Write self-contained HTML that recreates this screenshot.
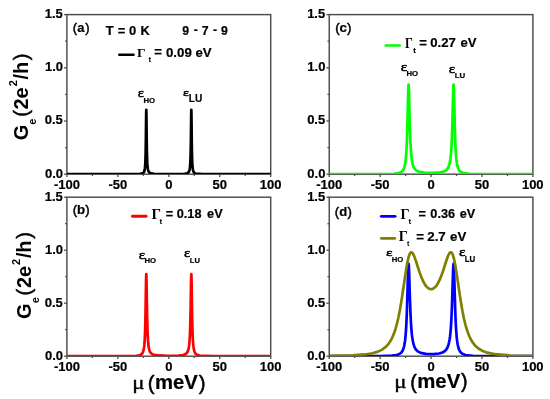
<!DOCTYPE html>
<html><head><meta charset="utf-8"><style>
html,body{margin:0;padding:0;background:#fff;width:550px;height:399px;overflow:hidden}
svg{display:block;will-change:transform}
</style></head><body>
<svg width="550" height="399" viewBox="0 0 550 399">
<rect width="550" height="399" fill="#fff"/>
<clipPath id="clipa"><rect x="66.90" y="14.60" width="203.80" height="159.40"/></clipPath>
<clipPath id="clipc"><rect x="329.25" y="14.60" width="203.65" height="159.40"/></clipPath>
<clipPath id="clipb"><rect x="66.90" y="197.20" width="203.80" height="158.80"/></clipPath>
<clipPath id="clipd"><rect x="329.25" y="197.20" width="203.65" height="158.80"/></clipPath>
<rect x="66.90" y="14.60" width="203.80" height="159.60" fill="none" stroke="#4d4d4d" stroke-width="1.45"/>
<line x1="66.90" y1="174.20" x2="66.90" y2="177.00" stroke="#4d4d4d" stroke-width="1.30"/>
<line x1="117.85" y1="174.20" x2="117.85" y2="177.00" stroke="#4d4d4d" stroke-width="1.30"/>
<line x1="168.80" y1="174.20" x2="168.80" y2="177.00" stroke="#4d4d4d" stroke-width="1.30"/>
<line x1="219.75" y1="174.20" x2="219.75" y2="177.00" stroke="#4d4d4d" stroke-width="1.30"/>
<line x1="270.70" y1="174.20" x2="270.70" y2="177.00" stroke="#4d4d4d" stroke-width="1.30"/>
<line x1="92.38" y1="174.20" x2="92.38" y2="176.00" stroke="#4d4d4d" stroke-width="1.30"/>
<line x1="143.32" y1="174.20" x2="143.32" y2="176.00" stroke="#4d4d4d" stroke-width="1.30"/>
<line x1="194.27" y1="174.20" x2="194.27" y2="176.00" stroke="#4d4d4d" stroke-width="1.30"/>
<line x1="245.22" y1="174.20" x2="245.22" y2="176.00" stroke="#4d4d4d" stroke-width="1.30"/>
<line x1="64.10" y1="174.20" x2="66.90" y2="174.20" stroke="#4d4d4d" stroke-width="1.30"/>
<line x1="64.10" y1="121.00" x2="66.90" y2="121.00" stroke="#4d4d4d" stroke-width="1.30"/>
<line x1="64.10" y1="67.80" x2="66.90" y2="67.80" stroke="#4d4d4d" stroke-width="1.30"/>
<line x1="64.10" y1="14.60" x2="66.90" y2="14.60" stroke="#4d4d4d" stroke-width="1.30"/>
<line x1="65.10" y1="147.60" x2="66.90" y2="147.60" stroke="#4d4d4d" stroke-width="1.30"/>
<line x1="65.10" y1="94.40" x2="66.90" y2="94.40" stroke="#4d4d4d" stroke-width="1.30"/>
<line x1="65.10" y1="41.20" x2="66.90" y2="41.20" stroke="#4d4d4d" stroke-width="1.30"/>
<rect x="66.90" y="197.20" width="203.80" height="159.00" fill="none" stroke="#4d4d4d" stroke-width="1.45"/>
<line x1="66.90" y1="356.20" x2="66.90" y2="359.00" stroke="#4d4d4d" stroke-width="1.30"/>
<line x1="117.85" y1="356.20" x2="117.85" y2="359.00" stroke="#4d4d4d" stroke-width="1.30"/>
<line x1="168.80" y1="356.20" x2="168.80" y2="359.00" stroke="#4d4d4d" stroke-width="1.30"/>
<line x1="219.75" y1="356.20" x2="219.75" y2="359.00" stroke="#4d4d4d" stroke-width="1.30"/>
<line x1="270.70" y1="356.20" x2="270.70" y2="359.00" stroke="#4d4d4d" stroke-width="1.30"/>
<line x1="92.38" y1="356.20" x2="92.38" y2="358.00" stroke="#4d4d4d" stroke-width="1.30"/>
<line x1="143.32" y1="356.20" x2="143.32" y2="358.00" stroke="#4d4d4d" stroke-width="1.30"/>
<line x1="194.27" y1="356.20" x2="194.27" y2="358.00" stroke="#4d4d4d" stroke-width="1.30"/>
<line x1="245.22" y1="356.20" x2="245.22" y2="358.00" stroke="#4d4d4d" stroke-width="1.30"/>
<line x1="64.10" y1="356.20" x2="66.90" y2="356.20" stroke="#4d4d4d" stroke-width="1.30"/>
<line x1="64.10" y1="303.20" x2="66.90" y2="303.20" stroke="#4d4d4d" stroke-width="1.30"/>
<line x1="64.10" y1="250.20" x2="66.90" y2="250.20" stroke="#4d4d4d" stroke-width="1.30"/>
<line x1="64.10" y1="197.20" x2="66.90" y2="197.20" stroke="#4d4d4d" stroke-width="1.30"/>
<line x1="65.10" y1="329.70" x2="66.90" y2="329.70" stroke="#4d4d4d" stroke-width="1.30"/>
<line x1="65.10" y1="276.70" x2="66.90" y2="276.70" stroke="#4d4d4d" stroke-width="1.30"/>
<line x1="65.10" y1="223.70" x2="66.90" y2="223.70" stroke="#4d4d4d" stroke-width="1.30"/>
<rect x="329.25" y="14.60" width="203.65" height="159.60" fill="none" stroke="#4d4d4d" stroke-width="1.45"/>
<line x1="329.25" y1="174.20" x2="329.25" y2="177.00" stroke="#4d4d4d" stroke-width="1.30"/>
<line x1="380.16" y1="174.20" x2="380.16" y2="177.00" stroke="#4d4d4d" stroke-width="1.30"/>
<line x1="431.07" y1="174.20" x2="431.07" y2="177.00" stroke="#4d4d4d" stroke-width="1.30"/>
<line x1="481.99" y1="174.20" x2="481.99" y2="177.00" stroke="#4d4d4d" stroke-width="1.30"/>
<line x1="532.90" y1="174.20" x2="532.90" y2="177.00" stroke="#4d4d4d" stroke-width="1.30"/>
<line x1="354.71" y1="174.20" x2="354.71" y2="176.00" stroke="#4d4d4d" stroke-width="1.30"/>
<line x1="405.62" y1="174.20" x2="405.62" y2="176.00" stroke="#4d4d4d" stroke-width="1.30"/>
<line x1="456.53" y1="174.20" x2="456.53" y2="176.00" stroke="#4d4d4d" stroke-width="1.30"/>
<line x1="507.44" y1="174.20" x2="507.44" y2="176.00" stroke="#4d4d4d" stroke-width="1.30"/>
<line x1="326.45" y1="174.20" x2="329.25" y2="174.20" stroke="#4d4d4d" stroke-width="1.30"/>
<line x1="326.45" y1="121.00" x2="329.25" y2="121.00" stroke="#4d4d4d" stroke-width="1.30"/>
<line x1="326.45" y1="67.80" x2="329.25" y2="67.80" stroke="#4d4d4d" stroke-width="1.30"/>
<line x1="326.45" y1="14.60" x2="329.25" y2="14.60" stroke="#4d4d4d" stroke-width="1.30"/>
<line x1="327.45" y1="147.60" x2="329.25" y2="147.60" stroke="#4d4d4d" stroke-width="1.30"/>
<line x1="327.45" y1="94.40" x2="329.25" y2="94.40" stroke="#4d4d4d" stroke-width="1.30"/>
<line x1="327.45" y1="41.20" x2="329.25" y2="41.20" stroke="#4d4d4d" stroke-width="1.30"/>
<rect x="329.25" y="197.20" width="203.65" height="159.00" fill="none" stroke="#4d4d4d" stroke-width="1.45"/>
<line x1="329.25" y1="356.20" x2="329.25" y2="359.00" stroke="#4d4d4d" stroke-width="1.30"/>
<line x1="380.16" y1="356.20" x2="380.16" y2="359.00" stroke="#4d4d4d" stroke-width="1.30"/>
<line x1="431.07" y1="356.20" x2="431.07" y2="359.00" stroke="#4d4d4d" stroke-width="1.30"/>
<line x1="481.99" y1="356.20" x2="481.99" y2="359.00" stroke="#4d4d4d" stroke-width="1.30"/>
<line x1="532.90" y1="356.20" x2="532.90" y2="359.00" stroke="#4d4d4d" stroke-width="1.30"/>
<line x1="354.71" y1="356.20" x2="354.71" y2="358.00" stroke="#4d4d4d" stroke-width="1.30"/>
<line x1="405.62" y1="356.20" x2="405.62" y2="358.00" stroke="#4d4d4d" stroke-width="1.30"/>
<line x1="456.53" y1="356.20" x2="456.53" y2="358.00" stroke="#4d4d4d" stroke-width="1.30"/>
<line x1="507.44" y1="356.20" x2="507.44" y2="358.00" stroke="#4d4d4d" stroke-width="1.30"/>
<line x1="326.45" y1="356.20" x2="329.25" y2="356.20" stroke="#4d4d4d" stroke-width="1.30"/>
<line x1="326.45" y1="303.20" x2="329.25" y2="303.20" stroke="#4d4d4d" stroke-width="1.30"/>
<line x1="326.45" y1="250.20" x2="329.25" y2="250.20" stroke="#4d4d4d" stroke-width="1.30"/>
<line x1="326.45" y1="197.20" x2="329.25" y2="197.20" stroke="#4d4d4d" stroke-width="1.30"/>
<line x1="327.45" y1="329.70" x2="329.25" y2="329.70" stroke="#4d4d4d" stroke-width="1.30"/>
<line x1="327.45" y1="276.70" x2="329.25" y2="276.70" stroke="#4d4d4d" stroke-width="1.30"/>
<line x1="327.45" y1="223.70" x2="329.25" y2="223.70" stroke="#4d4d4d" stroke-width="1.30"/>
<path clip-path="url(#clipa)" d="M66.90 174.20 L132.83 174.16 L140.10 173.93 L142.43 173.43 L143.53 172.65 L144.16 171.56 L144.57 170.17 L144.85 168.49 L145.08 166.38 L145.24 164.09 L145.38 161.25 L145.51 157.88 L145.61 154.15 L145.69 150.36 L145.77 145.70 L145.85 140.04 L145.93 133.38 L146.08 120.44 L146.14 115.44 L146.18 112.77 L146.22 110.85 L146.26 109.85 L146.30 109.85 L146.34 110.84 L146.38 112.74 L146.44 116.91 L146.63 132.92 L146.71 139.43 L146.79 144.98 L146.87 149.57 L146.97 154.14 L147.07 157.66 L147.20 160.87 L147.36 163.94 L147.56 166.52 L147.83 168.66 L148.22 170.48 L148.85 171.97 L150.07 173.09 L153.80 173.86 L177.69 174.05 L184.78 173.77 L187.22 173.24 L188.41 172.43 L189.10 171.30 L189.55 169.84 L189.85 168.11 L190.08 166.09 L190.26 163.62 L190.40 160.87 L190.53 157.66 L190.63 154.14 L190.73 149.57 L190.81 144.98 L190.89 139.43 L190.97 132.92 L191.12 120.28 L191.18 115.38 L191.22 112.74 L191.26 110.84 L191.30 109.85 L191.34 109.85 L191.38 110.85 L191.42 112.77 L191.48 117.00 L191.67 133.38 L191.75 140.04 L191.83 145.70 L191.91 150.36 L192.01 154.98 L192.11 158.52 L192.24 161.72 L192.40 164.74 L192.60 167.26 L192.89 169.44 L193.30 171.17 L193.99 172.55 L195.46 173.54 L202.75 174.13 L270.70 174.20" fill="none" stroke="#000" stroke-width="2.70" stroke-linejoin="round"/>
<path clip-path="url(#clipb)" d="M66.90 356.20 L126.80 356.13 L136.17 355.85 L139.60 355.29 L141.35 354.42 L142.41 353.23 L143.10 351.75 L143.61 349.91 L144.00 347.70 L144.30 345.13 L144.55 342.22 L144.75 338.96 L144.94 335.10 L145.10 330.68 L145.24 325.83 L145.36 320.80 L145.49 314.86 L145.61 307.97 L145.91 288.16 L146.02 282.08 L146.10 278.14 L146.16 275.97 L146.22 274.62 L146.28 274.16 L146.34 274.61 L146.40 275.95 L146.48 278.94 L146.57 283.01 L146.73 292.92 L146.91 304.40 L147.05 312.37 L147.18 318.26 L147.32 324.04 L147.46 328.79 L147.63 333.17 L147.81 337.04 L148.03 340.63 L148.30 343.75 L148.64 346.60 L149.09 349.04 L149.70 351.09 L150.64 352.83 L152.23 354.21 L155.61 355.22 L167.25 355.77 L178.66 355.55 L183.23 354.98 L185.49 354.14 L186.84 352.99 L187.71 351.53 L188.32 349.77 L188.77 347.74 L189.12 345.40 L189.40 342.67 L189.65 339.44 L189.85 335.85 L190.02 332.17 L190.18 327.53 L190.32 322.50 L190.44 317.34 L190.57 311.30 L190.71 303.18 L190.95 287.79 L191.05 281.91 L191.14 278.08 L191.20 275.95 L191.26 274.61 L191.32 274.16 L191.38 274.62 L191.44 275.97 L191.52 279.02 L191.61 283.21 L191.75 292.15 L191.93 304.20 L192.05 311.53 L192.18 317.95 L192.30 323.42 L192.44 328.72 L192.58 333.02 L192.75 336.94 L192.95 340.70 L193.19 344.03 L193.50 346.95 L193.89 349.41 L194.42 351.51 L195.19 353.23 L196.50 354.60 L199.25 355.58 L213.72 356.15 L270.70 356.20" fill="none" stroke="#ff0000" stroke-width="2.70" stroke-linejoin="round"/>
<path clip-path="url(#clipc)" d="M329.25 174.20 L383.24 174.10 L394.19 173.76 L398.63 173.13 L401.04 172.18 L402.54 170.90 L403.56 169.32 L404.32 167.39 L404.89 165.16 L405.35 162.50 L405.74 159.44 L406.07 155.98 L406.35 152.02 L406.60 147.71 L406.82 142.81 L407.02 137.42 L407.23 130.99 L407.43 123.47 L407.68 113.16 L407.98 99.58 L408.12 93.83 L408.25 89.71 L408.35 87.08 L408.45 85.36 L408.55 84.63 L408.65 84.94 L408.75 86.25 L408.88 89.00 L409.02 93.50 L409.22 101.42 L409.55 114.96 L409.77 123.47 L409.98 130.24 L410.18 136.04 L410.40 141.40 L410.65 146.19 L410.93 150.66 L411.26 154.63 L411.65 158.20 L412.12 161.35 L412.71 164.13 L413.48 166.55 L414.56 168.63 L416.17 170.36 L418.88 171.74 L424.31 172.70 L433.91 172.91 L440.36 172.40 L443.88 171.52 L446.04 170.31 L447.47 168.81 L448.49 166.99 L449.24 164.87 L449.83 162.43 L450.30 159.69 L450.71 156.45 L451.03 153.02 L451.32 149.19 L451.58 144.71 L451.81 140.04 L452.03 134.40 L452.23 128.31 L452.44 121.25 L452.68 111.64 L452.99 98.93 L453.15 92.79 L453.27 89.00 L453.37 86.63 L453.48 85.13 L453.58 84.61 L453.68 85.13 L453.78 86.66 L453.88 89.12 L454.01 93.08 L454.17 99.58 L454.56 116.72 L454.76 125.06 L454.94 131.68 L455.15 138.00 L455.35 143.30 L455.57 148.11 L455.84 152.65 L456.12 156.47 L456.47 159.99 L456.90 163.16 L457.43 165.89 L458.12 168.23 L459.10 170.22 L460.58 171.82 L463.21 173.05 L469.79 173.87 L532.90 174.20" fill="none" stroke="#00ff00" stroke-width="2.70" stroke-linejoin="round"/>
<path clip-path="url(#clipd)" d="M329.25 356.19 L380.02 356.08 L391.67 355.71 L396.64 355.04 L399.41 354.04 L401.16 352.73 L402.38 351.08 L403.28 349.11 L403.97 346.81 L404.54 344.09 L405.01 341.00 L405.39 337.62 L405.74 333.71 L406.05 329.36 L406.31 324.72 L406.56 319.58 L406.80 313.49 L407.04 306.40 L407.31 297.62 L407.80 279.92 L407.98 273.81 L408.14 269.24 L408.29 266.21 L408.41 264.51 L408.53 263.71 L408.65 263.87 L408.78 264.95 L408.92 267.27 L409.08 271.08 L409.28 277.06 L409.81 294.59 L410.08 302.71 L410.34 309.86 L410.61 315.98 L410.89 321.52 L411.20 326.40 L411.54 330.87 L411.95 334.99 L412.42 338.62 L412.99 341.89 L413.70 344.79 L414.64 347.37 L415.90 349.57 L417.74 351.41 L420.65 352.88 L425.82 353.88 L433.42 354.08 L439.06 353.50 L442.52 352.49 L444.76 351.14 L446.31 349.49 L447.45 347.51 L448.32 345.20 L449.02 342.56 L449.59 339.54 L450.06 336.21 L450.46 332.44 L450.81 328.37 L451.11 323.92 L451.40 318.88 L451.66 313.28 L451.93 306.69 L452.19 299.07 L452.85 277.71 L453.05 271.63 L453.21 267.69 L453.35 265.22 L453.48 263.99 L453.60 263.68 L453.72 264.31 L453.84 265.87 L453.99 268.74 L454.15 273.19 L454.37 280.65 L454.82 296.91 L455.09 305.76 L455.33 312.94 L455.57 319.11 L455.84 324.72 L456.12 329.68 L456.45 334.22 L456.82 338.22 L457.24 341.76 L457.77 344.97 L458.43 347.72 L459.28 350.11 L460.46 352.12 L462.25 353.75 L465.37 355.00 L472.86 355.85 L532.90 356.19" fill="none" stroke="#0000ff" stroke-width="2.70" stroke-linejoin="round"/>
<path clip-path="url(#clipd)" d="M329.25 355.92 L352.43 355.36 L364.73 354.47 L372.53 353.22 L378.00 351.60 L382.14 349.60 L385.40 347.21 L388.06 344.42 L390.32 341.19 L392.28 337.52 L394.01 333.38 L395.58 328.71 L397.02 323.48 L398.39 317.60 L399.73 310.84 L401.12 302.86 L402.81 291.93 L405.27 275.09 L406.49 267.39 L407.49 261.95 L408.39 257.97 L409.24 255.11 L410.10 253.22 L410.97 252.31 L411.91 252.38 L412.95 253.55 L414.19 256.12 L416.09 261.49 L419.28 271.48 L421.34 277.14 L423.25 281.48 L425.17 284.84 L427.10 287.24 L429.08 288.70 L431.07 289.19 L433.07 288.70 L435.05 287.24 L436.98 284.84 L438.90 281.48 L440.83 277.09 L443.03 270.99 L446.63 259.76 L448.10 255.77 L449.24 253.49 L450.24 252.38 L451.15 252.30 L452.01 253.16 L452.87 254.99 L453.74 257.89 L454.66 261.95 L455.72 267.75 L457.16 277.00 L459.75 294.66 L461.24 304.10 L462.60 311.82 L463.94 318.45 L465.35 324.35 L466.84 329.57 L468.49 334.29 L470.34 338.49 L472.46 342.19 L474.98 345.46 L478.06 348.27 L482.01 350.67 L487.36 352.65 L495.35 354.21 L509.48 355.35 L532.90 355.92" fill="none" stroke="#808000" stroke-width="2.70" stroke-linejoin="round"/>
<text x="44.96" y="177.63" fill="#000" stroke="#000" stroke-width="0.20" stroke-linejoin="round" style="font-family:&quot;Liberation Sans&quot;,sans-serif;font-weight:bold;font-size:13.00px">0.0</text>
<text x="44.79" y="124.43" fill="#000" stroke="#000" stroke-width="0.20" stroke-linejoin="round" style="font-family:&quot;Liberation Sans&quot;,sans-serif;font-weight:bold;font-size:13.00px">0.5</text>
<text x="44.96" y="71.23" fill="#000" stroke="#000" stroke-width="0.20" stroke-linejoin="round" style="font-family:&quot;Liberation Sans&quot;,sans-serif;font-weight:bold;font-size:13.00px">1.0</text>
<text x="44.79" y="17.96" fill="#000" stroke="#000" stroke-width="0.20" stroke-linejoin="round" style="font-family:&quot;Liberation Sans&quot;,sans-serif;font-weight:bold;font-size:13.00px">1.5</text>
<text x="53.90" y="189.08" fill="#000" stroke="#000" stroke-width="0.20" stroke-linejoin="round" style="font-family:&quot;Liberation Sans&quot;,sans-serif;font-weight:bold;font-size:13.00px">-100</text>
<text x="108.47" y="189.08" fill="#000" stroke="#000" stroke-width="0.20" stroke-linejoin="round" style="font-family:&quot;Liberation Sans&quot;,sans-serif;font-weight:bold;font-size:13.00px">-50</text>
<text x="165.19" y="189.08" fill="#000" stroke="#000" stroke-width="0.20" stroke-linejoin="round" style="font-family:&quot;Liberation Sans&quot;,sans-serif;font-weight:bold;font-size:13.00px">0</text>
<text x="212.59" y="189.08" fill="#000" stroke="#000" stroke-width="0.20" stroke-linejoin="round" style="font-family:&quot;Liberation Sans&quot;,sans-serif;font-weight:bold;font-size:13.00px">50</text>
<text x="259.71" y="189.08" fill="#000" stroke="#000" stroke-width="0.20" stroke-linejoin="round" style="font-family:&quot;Liberation Sans&quot;,sans-serif;font-weight:bold;font-size:13.00px">100</text>
<text x="44.96" y="359.63" fill="#000" stroke="#000" stroke-width="0.20" stroke-linejoin="round" style="font-family:&quot;Liberation Sans&quot;,sans-serif;font-weight:bold;font-size:13.00px">0.0</text>
<text x="44.79" y="306.63" fill="#000" stroke="#000" stroke-width="0.20" stroke-linejoin="round" style="font-family:&quot;Liberation Sans&quot;,sans-serif;font-weight:bold;font-size:13.00px">0.5</text>
<text x="44.96" y="253.63" fill="#000" stroke="#000" stroke-width="0.20" stroke-linejoin="round" style="font-family:&quot;Liberation Sans&quot;,sans-serif;font-weight:bold;font-size:13.00px">1.0</text>
<text x="44.79" y="200.56" fill="#000" stroke="#000" stroke-width="0.20" stroke-linejoin="round" style="font-family:&quot;Liberation Sans&quot;,sans-serif;font-weight:bold;font-size:13.00px">1.5</text>
<text x="53.90" y="371.08" fill="#000" stroke="#000" stroke-width="0.20" stroke-linejoin="round" style="font-family:&quot;Liberation Sans&quot;,sans-serif;font-weight:bold;font-size:13.00px">-100</text>
<text x="108.47" y="371.08" fill="#000" stroke="#000" stroke-width="0.20" stroke-linejoin="round" style="font-family:&quot;Liberation Sans&quot;,sans-serif;font-weight:bold;font-size:13.00px">-50</text>
<text x="165.19" y="371.08" fill="#000" stroke="#000" stroke-width="0.20" stroke-linejoin="round" style="font-family:&quot;Liberation Sans&quot;,sans-serif;font-weight:bold;font-size:13.00px">0</text>
<text x="212.59" y="371.08" fill="#000" stroke="#000" stroke-width="0.20" stroke-linejoin="round" style="font-family:&quot;Liberation Sans&quot;,sans-serif;font-weight:bold;font-size:13.00px">50</text>
<text x="259.71" y="371.08" fill="#000" stroke="#000" stroke-width="0.20" stroke-linejoin="round" style="font-family:&quot;Liberation Sans&quot;,sans-serif;font-weight:bold;font-size:13.00px">100</text>
<text x="307.31" y="177.63" fill="#000" stroke="#000" stroke-width="0.20" stroke-linejoin="round" style="font-family:&quot;Liberation Sans&quot;,sans-serif;font-weight:bold;font-size:13.00px">0.0</text>
<text x="307.14" y="124.43" fill="#000" stroke="#000" stroke-width="0.20" stroke-linejoin="round" style="font-family:&quot;Liberation Sans&quot;,sans-serif;font-weight:bold;font-size:13.00px">0.5</text>
<text x="307.31" y="71.23" fill="#000" stroke="#000" stroke-width="0.20" stroke-linejoin="round" style="font-family:&quot;Liberation Sans&quot;,sans-serif;font-weight:bold;font-size:13.00px">1.0</text>
<text x="307.14" y="17.96" fill="#000" stroke="#000" stroke-width="0.20" stroke-linejoin="round" style="font-family:&quot;Liberation Sans&quot;,sans-serif;font-weight:bold;font-size:13.00px">1.5</text>
<text x="316.25" y="189.08" fill="#000" stroke="#000" stroke-width="0.20" stroke-linejoin="round" style="font-family:&quot;Liberation Sans&quot;,sans-serif;font-weight:bold;font-size:13.00px">-100</text>
<text x="370.78" y="189.08" fill="#000" stroke="#000" stroke-width="0.20" stroke-linejoin="round" style="font-family:&quot;Liberation Sans&quot;,sans-serif;font-weight:bold;font-size:13.00px">-50</text>
<text x="427.47" y="189.08" fill="#000" stroke="#000" stroke-width="0.20" stroke-linejoin="round" style="font-family:&quot;Liberation Sans&quot;,sans-serif;font-weight:bold;font-size:13.00px">0</text>
<text x="474.82" y="189.08" fill="#000" stroke="#000" stroke-width="0.20" stroke-linejoin="round" style="font-family:&quot;Liberation Sans&quot;,sans-serif;font-weight:bold;font-size:13.00px">50</text>
<text x="521.91" y="189.08" fill="#000" stroke="#000" stroke-width="0.20" stroke-linejoin="round" style="font-family:&quot;Liberation Sans&quot;,sans-serif;font-weight:bold;font-size:13.00px">100</text>
<text x="307.31" y="359.63" fill="#000" stroke="#000" stroke-width="0.20" stroke-linejoin="round" style="font-family:&quot;Liberation Sans&quot;,sans-serif;font-weight:bold;font-size:13.00px">0.0</text>
<text x="307.14" y="306.63" fill="#000" stroke="#000" stroke-width="0.20" stroke-linejoin="round" style="font-family:&quot;Liberation Sans&quot;,sans-serif;font-weight:bold;font-size:13.00px">0.5</text>
<text x="307.31" y="253.63" fill="#000" stroke="#000" stroke-width="0.20" stroke-linejoin="round" style="font-family:&quot;Liberation Sans&quot;,sans-serif;font-weight:bold;font-size:13.00px">1.0</text>
<text x="307.14" y="200.56" fill="#000" stroke="#000" stroke-width="0.20" stroke-linejoin="round" style="font-family:&quot;Liberation Sans&quot;,sans-serif;font-weight:bold;font-size:13.00px">1.5</text>
<text x="316.25" y="371.08" fill="#000" stroke="#000" stroke-width="0.20" stroke-linejoin="round" style="font-family:&quot;Liberation Sans&quot;,sans-serif;font-weight:bold;font-size:13.00px">-100</text>
<text x="370.78" y="371.08" fill="#000" stroke="#000" stroke-width="0.20" stroke-linejoin="round" style="font-family:&quot;Liberation Sans&quot;,sans-serif;font-weight:bold;font-size:13.00px">-50</text>
<text x="427.47" y="371.08" fill="#000" stroke="#000" stroke-width="0.20" stroke-linejoin="round" style="font-family:&quot;Liberation Sans&quot;,sans-serif;font-weight:bold;font-size:13.00px">0</text>
<text x="474.82" y="371.08" fill="#000" stroke="#000" stroke-width="0.20" stroke-linejoin="round" style="font-family:&quot;Liberation Sans&quot;,sans-serif;font-weight:bold;font-size:13.00px">50</text>
<text x="521.91" y="371.08" fill="#000" stroke="#000" stroke-width="0.20" stroke-linejoin="round" style="font-family:&quot;Liberation Sans&quot;,sans-serif;font-weight:bold;font-size:13.00px">100</text>
<text x="72.65" y="32.11" fill="#000" stroke="#000" stroke-width="0.50" stroke-linejoin="round" style="font-family:&quot;Liberation Sans&quot;,sans-serif;font-weight:normal;font-size:12.97px">(</text>
<text x="85.14" y="32.11" fill="#000" stroke="#000" stroke-width="0.50" stroke-linejoin="round" style="font-family:&quot;Liberation Sans&quot;,sans-serif;font-weight:normal;font-size:12.97px">)</text>
<text x="77.21" y="32.10" fill="#000" stroke="#000" stroke-width="0.20" stroke-linejoin="round" style="font-family:&quot;Liberation Sans&quot;,sans-serif;font-weight:bold;font-size:12.97px">a</text>
<text x="335.23" y="31.74" fill="#000" stroke="#000" stroke-width="0.50" stroke-linejoin="round" style="font-family:&quot;Liberation Sans&quot;,sans-serif;font-weight:normal;font-size:13.29px">(</text>
<text x="347.05" y="31.74" fill="#000" stroke="#000" stroke-width="0.50" stroke-linejoin="round" style="font-family:&quot;Liberation Sans&quot;,sans-serif;font-weight:normal;font-size:13.29px">)</text>
<text x="339.59" y="31.74" fill="#000" stroke="#000" stroke-width="0.20" stroke-linejoin="round" style="font-family:&quot;Liberation Sans&quot;,sans-serif;font-weight:bold;font-size:13.29px">c</text>
<text x="72.63" y="213.74" fill="#000" stroke="#000" stroke-width="0.50" stroke-linejoin="round" style="font-family:&quot;Liberation Sans&quot;,sans-serif;font-weight:normal;font-size:13.29px">(</text>
<text x="85.35" y="213.74" fill="#000" stroke="#000" stroke-width="0.50" stroke-linejoin="round" style="font-family:&quot;Liberation Sans&quot;,sans-serif;font-weight:normal;font-size:13.29px">)</text>
<text x="76.98" y="213.74" fill="#000" stroke="#000" stroke-width="0.20" stroke-linejoin="round" style="font-family:&quot;Liberation Sans&quot;,sans-serif;font-weight:bold;font-size:13.29px">b</text>
<text x="334.64" y="215.78" fill="#000" stroke="#000" stroke-width="0.50" stroke-linejoin="round" style="font-family:&quot;Liberation Sans&quot;,sans-serif;font-weight:normal;font-size:13.08px">(</text>
<text x="347.41" y="215.78" fill="#000" stroke="#000" stroke-width="0.50" stroke-linejoin="round" style="font-family:&quot;Liberation Sans&quot;,sans-serif;font-weight:normal;font-size:13.08px">)</text>
<text x="339.37" y="215.78" fill="#000" stroke="#000" stroke-width="0.20" stroke-linejoin="round" style="font-family:&quot;Liberation Sans&quot;,sans-serif;font-weight:bold;font-size:13.08px">d</text>
<text x="105.80" y="35.10" fill="#000" stroke="#000" stroke-width="0.20" stroke-linejoin="round" style="font-family:&quot;Liberation Sans&quot;,sans-serif;font-weight:bold;font-size:12.94px">T</text>
<text x="117.87" y="34.98" fill="#000" stroke="#000" stroke-width="0.20" stroke-linejoin="round" style="font-family:&quot;Liberation Sans&quot;,sans-serif;font-weight:bold;font-size:12.94px">=</text>
<text x="128.96" y="35.10" fill="#000" stroke="#000" stroke-width="0.20" stroke-linejoin="round" style="font-family:&quot;Liberation Sans&quot;,sans-serif;font-weight:bold;font-size:12.94px">0</text>
<text x="140.46" y="35.10" fill="#000" stroke="#000" stroke-width="0.20" stroke-linejoin="round" style="font-family:&quot;Liberation Sans&quot;,sans-serif;font-weight:bold;font-size:12.94px">K</text>
<text x="182.30" y="34.58" fill="#000" stroke="#000" stroke-width="0.20" stroke-linejoin="round" style="font-family:&quot;Liberation Sans&quot;,sans-serif;font-weight:bold;font-size:12.29px">9</text>
<text x="193.76" y="34.44" fill="#000" stroke="#000" stroke-width="0.20" stroke-linejoin="round" style="font-family:&quot;Liberation Sans&quot;,sans-serif;font-weight:bold;font-size:12.29px">-</text>
<text x="201.79" y="34.58" fill="#000" stroke="#000" stroke-width="0.20" stroke-linejoin="round" style="font-family:&quot;Liberation Sans&quot;,sans-serif;font-weight:bold;font-size:12.29px">7</text>
<text x="213.11" y="34.44" fill="#000" stroke="#000" stroke-width="0.20" stroke-linejoin="round" style="font-family:&quot;Liberation Sans&quot;,sans-serif;font-weight:bold;font-size:12.29px">-</text>
<text x="221.00" y="34.58" fill="#000" stroke="#000" stroke-width="0.20" stroke-linejoin="round" style="font-family:&quot;Liberation Sans&quot;,sans-serif;font-weight:bold;font-size:12.29px">9</text>
<line x1="119.20" y1="54.75" x2="133.60" y2="54.75" stroke="#000" stroke-width="2.40" stroke-linecap="round"/>
<text transform="translate(137.06 56.80) scale(1.003 1)" fill="#000" style="font-family:&quot;Liberation Serif&quot;,serif;font-weight:bold;font-size:13.44px">Γ</text>
<text transform="translate(148.40 62.43) scale(1.071 1)" fill="#000" style="font-family:&quot;Liberation Sans&quot;,sans-serif;font-weight:bold;font-size:7.56px">t</text>
<text x="165.96" y="56.57" fill="#000" stroke="#000" stroke-width="0.20" stroke-linejoin="round" style="font-family:&quot;Liberation Sans&quot;,sans-serif;font-weight:bold;font-size:13.28px">0.09</text>
<text x="154.27" y="56.25" fill="#000" stroke="#000" stroke-width="0.20" stroke-linejoin="round" style="font-family:&quot;Liberation Sans&quot;,sans-serif;font-weight:bold;font-size:13.28px">=</text>
<text x="195.47" y="56.55" fill="#000" stroke="#000" stroke-width="0.20" stroke-linejoin="round" style="font-family:&quot;Liberation Sans&quot;,sans-serif;font-weight:bold;font-size:13.28px">eV</text>
<line x1="385.75" y1="45.50" x2="399.75" y2="45.50" stroke="#00ff00" stroke-width="2.70" stroke-linecap="round"/>
<text transform="translate(404.88 47.80) scale(0.852 1)" fill="#000" style="font-family:&quot;Liberation Serif&quot;,serif;font-weight:bold;font-size:14.36px">Γ</text>
<text transform="translate(412.99 53.23) scale(1.218 1)" fill="#000" style="font-family:&quot;Liberation Sans&quot;,sans-serif;font-weight:bold;font-size:7.71px">t</text>
<text x="430.25" y="47.37" fill="#000" stroke="#000" stroke-width="0.20" stroke-linejoin="round" style="font-family:&quot;Liberation Sans&quot;,sans-serif;font-weight:bold;font-size:13.14px">0.27</text>
<text x="419.31" y="47.05" fill="#000" stroke="#000" stroke-width="0.20" stroke-linejoin="round" style="font-family:&quot;Liberation Sans&quot;,sans-serif;font-weight:bold;font-size:13.14px">=</text>
<text x="460.56" y="47.40" fill="#000" stroke="#000" stroke-width="0.20" stroke-linejoin="round" style="font-family:&quot;Liberation Sans&quot;,sans-serif;font-weight:bold;font-size:13.14px">eV</text>
<line x1="132.50" y1="216.25" x2="146.10" y2="216.25" stroke="#ff0000" stroke-width="2.80" stroke-linecap="round"/>
<text transform="translate(151.53 218.80) scale(1.049 1)" fill="#000" style="font-family:&quot;Liberation Serif&quot;,serif;font-weight:bold;font-size:14.20px">Γ</text>
<text transform="translate(159.40 223.84) scale(1.140 1)" fill="#000" style="font-family:&quot;Liberation Sans&quot;,sans-serif;font-weight:bold;font-size:7.11px">t</text>
<text x="176.77" y="218.28" fill="#000" stroke="#000" stroke-width="0.20" stroke-linejoin="round" style="font-family:&quot;Liberation Sans&quot;,sans-serif;font-weight:bold;font-size:12.71px">0.18</text>
<text x="165.79" y="217.76" fill="#000" stroke="#000" stroke-width="0.20" stroke-linejoin="round" style="font-family:&quot;Liberation Sans&quot;,sans-serif;font-weight:bold;font-size:12.71px">=</text>
<text x="207.07" y="218.21" fill="#000" stroke="#000" stroke-width="0.20" stroke-linejoin="round" style="font-family:&quot;Liberation Sans&quot;,sans-serif;font-weight:bold;font-size:12.71px">eV</text>
<line x1="381.30" y1="216.35" x2="395.10" y2="216.35" stroke="#0000ff" stroke-width="2.80" stroke-linecap="round"/>
<text transform="translate(400.54 218.50) scale(1.032 1)" fill="#000" style="font-family:&quot;Liberation Serif&quot;,serif;font-weight:bold;font-size:13.74px">Γ</text>
<text transform="translate(408.40 223.73) scale(1.093 1)" fill="#000" style="font-family:&quot;Liberation Sans&quot;,sans-serif;font-weight:bold;font-size:7.41px">t</text>
<text x="430.33" y="217.96" fill="#000" stroke="#000" stroke-width="0.20" stroke-linejoin="round" style="font-family:&quot;Liberation Sans&quot;,sans-serif;font-weight:bold;font-size:12.69px">0.36</text>
<text x="418.44" y="217.75" fill="#000" stroke="#000" stroke-width="0.20" stroke-linejoin="round" style="font-family:&quot;Liberation Sans&quot;,sans-serif;font-weight:bold;font-size:12.69px">=</text>
<text x="459.64" y="217.90" fill="#000" stroke="#000" stroke-width="0.20" stroke-linejoin="round" style="font-family:&quot;Liberation Sans&quot;,sans-serif;font-weight:bold;font-size:12.69px">eV</text>
<line x1="381.30" y1="238.30" x2="394.80" y2="238.30" stroke="#808000" stroke-width="2.80" stroke-linecap="round"/>
<text transform="translate(398.74 240.90) scale(0.948 1)" fill="#000" style="font-family:&quot;Liberation Serif&quot;,serif;font-weight:bold;font-size:14.97px">Γ</text>
<text transform="translate(406.91 245.73) scale(0.962 1)" fill="#000" style="font-family:&quot;Liberation Sans&quot;,sans-serif;font-weight:bold;font-size:7.41px">t</text>
<text x="427.25" y="240.70" fill="#000" stroke="#000" stroke-width="0.20" stroke-linejoin="round" style="font-family:&quot;Liberation Sans&quot;,sans-serif;font-weight:bold;font-size:13.32px">2.7</text>
<text x="416.26" y="240.76" fill="#000" stroke="#000" stroke-width="0.20" stroke-linejoin="round" style="font-family:&quot;Liberation Sans&quot;,sans-serif;font-weight:bold;font-size:13.32px">=</text>
<text x="450.04" y="240.57" fill="#000" stroke="#000" stroke-width="0.20" stroke-linejoin="round" style="font-family:&quot;Liberation Sans&quot;,sans-serif;font-weight:bold;font-size:13.32px">eV</text>
<text transform="translate(137.65 97.15) scale(1.146 1)" fill="#000" stroke="#000" stroke-width="0.45" stroke-linejoin="round" style="font-family:&quot;Liberation Serif&quot;,serif;font-weight:normal;font-size:12.99px">ε</text>
<text transform="translate(143.48 102.62) scale(0.982 1)" fill="#000" stroke="#000" stroke-width="0.20" stroke-linejoin="round" style="font-family:&quot;Liberation Sans&quot;,sans-serif;font-weight:bold;font-size:7.91px">HO</text>
<text transform="translate(182.98 95.67) scale(1.311 1)" fill="#000" stroke="#000" stroke-width="0.45" stroke-linejoin="round" style="font-family:&quot;Liberation Serif&quot;,serif;font-weight:normal;font-size:10.71px">ε</text>
<text transform="translate(188.72 101.59) scale(0.917 1)" fill="#000" stroke="#000" stroke-width="0.20" stroke-linejoin="round" style="font-family:&quot;Liberation Sans&quot;,sans-serif;font-weight:bold;font-size:11.04px">LU</text>
<text transform="translate(400.63 70.56) scale(1.316 1)" fill="#000" stroke="#000" stroke-width="0.45" stroke-linejoin="round" style="font-family:&quot;Liberation Serif&quot;,serif;font-weight:normal;font-size:11.75px">ε</text>
<text transform="translate(406.48 75.63) scale(1.122 1)" fill="#000" stroke="#000" stroke-width="0.20" stroke-linejoin="round" style="font-family:&quot;Liberation Sans&quot;,sans-serif;font-weight:bold;font-size:6.92px">HO</text>
<text transform="translate(448.74 72.56) scale(1.292 1)" fill="#000" stroke="#000" stroke-width="0.45" stroke-linejoin="round" style="font-family:&quot;Liberation Serif&quot;,serif;font-weight:normal;font-size:11.75px">ε</text>
<text transform="translate(454.77 78.13) scale(1.058 1)" fill="#000" stroke="#000" stroke-width="0.20" stroke-linejoin="round" style="font-family:&quot;Liberation Sans&quot;,sans-serif;font-weight:bold;font-size:7.45px">LU</text>
<text transform="translate(138.74 258.56) scale(1.248 1)" fill="#000" stroke="#000" stroke-width="0.45" stroke-linejoin="round" style="font-family:&quot;Liberation Serif&quot;,serif;font-weight:normal;font-size:12.16px">ε</text>
<text transform="translate(144.48 263.33) scale(1.122 1)" fill="#000" stroke="#000" stroke-width="0.20" stroke-linejoin="round" style="font-family:&quot;Liberation Sans&quot;,sans-serif;font-weight:bold;font-size:6.92px">HO</text>
<text transform="translate(183.96 257.15) scale(1.181 1)" fill="#000" stroke="#000" stroke-width="0.45" stroke-linejoin="round" style="font-family:&quot;Liberation Serif&quot;,serif;font-weight:normal;font-size:12.37px">ε</text>
<text transform="translate(189.79 262.62) scale(0.986 1)" fill="#000" stroke="#000" stroke-width="0.20" stroke-linejoin="round" style="font-family:&quot;Liberation Sans&quot;,sans-serif;font-weight:bold;font-size:7.74px">LU</text>
<text transform="translate(385.93 256.36) scale(1.364 1)" fill="#000" stroke="#000" stroke-width="0.45" stroke-linejoin="round" style="font-family:&quot;Liberation Serif&quot;,serif;font-weight:normal;font-size:11.33px">ε</text>
<text transform="translate(391.79 262.33) scale(1.008 1)" fill="#000" stroke="#000" stroke-width="0.20" stroke-linejoin="round" style="font-family:&quot;Liberation Sans&quot;,sans-serif;font-weight:bold;font-size:7.63px">HO</text>
<text transform="translate(458.93 255.56) scale(1.316 1)" fill="#000" stroke="#000" stroke-width="0.45" stroke-linejoin="round" style="font-family:&quot;Liberation Serif&quot;,serif;font-weight:normal;font-size:11.75px">ε</text>
<text transform="translate(464.77 261.62) scale(0.965 1)" fill="#000" stroke="#000" stroke-width="0.20" stroke-linejoin="round" style="font-family:&quot;Liberation Sans&quot;,sans-serif;font-weight:bold;font-size:8.17px">LU</text>
<text transform="translate(132.33 389.47) scale(1.204 1)" fill="#000" stroke="#000" stroke-width="0.35" stroke-linejoin="round" style="font-family:&quot;Liberation Serif&quot;,serif;font-weight:normal;font-size:18.95px">μ</text>
<text transform="translate(154.96 389.20) scale(0.997 1)" fill="#000" stroke="#000" stroke-width="0.20" stroke-linejoin="round" style="font-family:&quot;Liberation Sans&quot;,sans-serif;font-weight:bold;font-size:20.35px">meV</text>
<text x="147.84" y="389.82" fill="#000" stroke="#000" stroke-width="0.50" stroke-linejoin="round" style="font-family:&quot;Liberation Sans&quot;,sans-serif;font-weight:normal;font-size:20.35px">(</text>
<text x="198.63" y="389.62" fill="#000" stroke="#000" stroke-width="0.50" stroke-linejoin="round" style="font-family:&quot;Liberation Sans&quot;,sans-serif;font-weight:normal;font-size:20.35px">)</text>
<text transform="translate(394.33 387.90) scale(1.243 1)" fill="#000" stroke="#000" stroke-width="0.35" stroke-linejoin="round" style="font-family:&quot;Liberation Serif&quot;,serif;font-weight:normal;font-size:18.35px">μ</text>
<text transform="translate(417.26 387.81) scale(1.036 1)" fill="#000" stroke="#000" stroke-width="0.20" stroke-linejoin="round" style="font-family:&quot;Liberation Sans&quot;,sans-serif;font-weight:bold;font-size:19.63px">meV</text>
<text x="410.18" y="388.53" fill="#000" stroke="#000" stroke-width="0.50" stroke-linejoin="round" style="font-family:&quot;Liberation Sans&quot;,sans-serif;font-weight:normal;font-size:19.63px">(</text>
<text x="461.08" y="388.43" fill="#000" stroke="#000" stroke-width="0.50" stroke-linejoin="round" style="font-family:&quot;Liberation Sans&quot;,sans-serif;font-weight:normal;font-size:19.63px">)</text>
<g transform="translate(27.70 139.50) rotate(-90)" style="font-family:&quot;Liberation Sans&quot;,sans-serif;font-weight:bold"><text x="-0.82" y="0.00" style="font-size:20.00px">G</text><text x="14.77" y="8.00" style="font-size:11.10px">e</text><text x="22.71" y="0.00" stroke="#000" stroke-width="0.50" style="font-size:20.00px;font-weight:normal">(</text><text x="30.01" y="0.00" style="font-size:20.00px">2</text><text x="41.12" y="0.00" style="font-size:20.00px">e</text><text x="53.22" y="-10.90" style="font-size:11.00px">2</text><text x="60.00" y="0.00" style="font-size:20.00px">/</text><text x="65.40" y="0.00" style="font-size:20.00px">h</text><text x="79.33" y="0.00" stroke="#000" stroke-width="0.50" style="font-size:20.00px;font-weight:normal">)</text></g>
<g transform="translate(31.10 318.10) rotate(-90)" style="font-family:&quot;Liberation Sans&quot;,sans-serif;font-weight:bold"><text x="-0.82" y="0.00" style="font-size:20.00px">G</text><text x="14.77" y="8.00" style="font-size:11.10px">e</text><text x="22.71" y="0.00" stroke="#000" stroke-width="0.50" style="font-size:20.00px;font-weight:normal">(</text><text x="30.01" y="0.00" style="font-size:20.00px">2</text><text x="41.12" y="0.00" style="font-size:20.00px">e</text><text x="53.22" y="-10.90" style="font-size:11.00px">2</text><text x="60.00" y="0.00" style="font-size:20.00px">/</text><text x="65.40" y="0.00" style="font-size:20.00px">h</text><text x="79.33" y="0.00" stroke="#000" stroke-width="0.50" style="font-size:20.00px;font-weight:normal">)</text></g>
</svg>
</body></html>
